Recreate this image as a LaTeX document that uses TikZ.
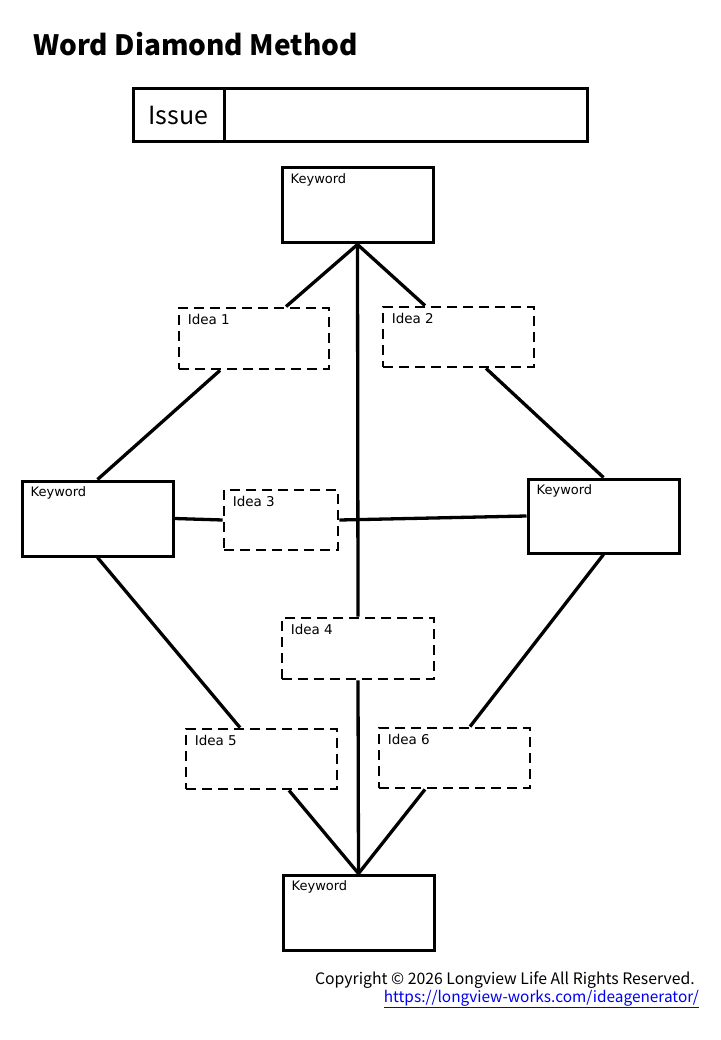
\documentclass[tikz,border=0pt]{standalone}
\usepackage{fontspec}
\setmainfont{Noto Sans CJK JP}
\newfontfamily\lblfont{DejaVu Sans}
\usepackage{tikz}
\tikzset{
  kwbox/.style={draw=black,line width=3pt,minimum width=151pt,
    minimum height=75pt,inner sep=0pt},
  idbox/.style={draw=black,line width=2.8pt,dash pattern=on 10pt off 6pt,
    minimum width=151pt,minimum height=60pt,inner sep=0pt},
  boxlbl/.style={anchor=north west,inner sep=0pt,xshift=10pt,yshift=-7pt,
    font=\lblfont\fontsize{13}{15}\selectfont},
  idlbl/.style={anchor=north west,inner sep=0pt,xshift=10pt,yshift=-7pt,
    font=\lblfont\fontsize{13.5}{16}\selectfont},
  issuecell/.style={draw=black,line width=3pt,minimum height=53pt,inner sep=0pt},
  link/.style={line width=3.3pt,black},
  titlelbl/.style={anchor=base west,inner sep=0pt,
    font=\fontsize{28}{33}\selectfont\bfseries},
  footlbl/.style={anchor=base east,inner sep=0pt,font=\fontsize{15.8}{18}\selectfont},
}
\definecolor{urlblue}{RGB}{0,0,238}

\begin{document}
\begin{tikzpicture}[x=1pt,y=-1pt]
  \useasboundingbox (0,0) rectangle (720,1040);
  \node[titlelbl] (title) at (33,56) {Word Diamond Method};
  \node[issuecell,minimum width=91pt,font=\fontsize{25}{30}\selectfont]
    (issuelbl) at (178.5,115.5) {Issue};
  \node[issuecell,minimum width=363pt] (issuebox) at (405.5,115.5) {};

  \node[kwbox,label={[boxlbl]north west:Keyword}] (kwtop) at (357.5,205.5) {};
  \node[kwbox,label={[boxlbl]north west:Keyword}] (kwleft) at (97.5,518.5) {};
  \node[kwbox,minimum height=74pt,label={[boxlbl]north west:Keyword}]
    (kwright) at (603.5,516) {};
  \node[kwbox,label={[boxlbl]north west:Keyword}] (kwbot) at (358.5,912.5) {};

  \node[idbox,minimum width=150pt,minimum height=61pt,
    label={[idlbl]north west:Idea 1}] (idea1) at (254,338.5) {};
  \node[idbox,label={[idlbl]north west:Idea 2}] (idea2) at (458.5,337) {};
  \node[idbox,minimum width=114pt,label={[idlbl]north west:Idea 3}]
    (idea3) at (281,520) {};
  \node[idbox,minimum width=152pt,minimum height=61pt,
    label={[idlbl]north west:Idea 4}] (idea4) at (358,648.5) {};
  \node[idbox,label={[idlbl]north west:Idea 5}] (idea5) at (261.5,759) {};
  \node[idbox,label={[idlbl]north west:Idea 6}] (idea6) at (454.5,758) {};

  \draw[link] (kwtop.south) -- ([xshift=32pt]idea1.north);
  \draw[link] (kwtop.south) -- ([xshift=-33.5pt]idea2.north);
  \draw[link] (kwtop.south) -- (idea4.north);
  \draw[link] ([xshift=-34pt]idea1.south) -- (kwleft.north);
  \draw[link] ([xshift=27.5pt]idea2.south) -- (kwright.north);
  \draw[link] (kwleft.east) -- (idea3.west);
  \draw[link] (idea3.east) -- (kwright.west);
  \draw[link] (kwleft.south) -- ([xshift=-21.5pt]idea5.north);
  \draw[link] (kwright.south) -- ([xshift=15.5pt]idea6.north);
  \draw[link] (idea4.south) -- (kwbot.north);
  \draw[link] ([xshift=27.5pt]idea5.south) -- (kwbot.north);
  \draw[link] ([xshift=-29.5pt]idea6.south) -- (kwbot.north);

  \node[footlbl] (copy) at (695,984) {Copyright © 2026 Longview Life All Rights Reserved.};
  \node[footlbl,text=urlblue,font=\fontsize{15.4}{18}\selectfont] (url) at (699,1002)
    {\underline{https://longview-works.com/ideagenerator/}};
\end{tikzpicture}
\end{document}
